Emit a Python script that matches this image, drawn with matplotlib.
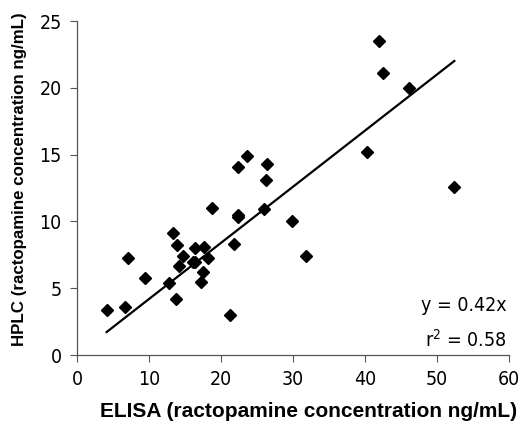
import numpy as np
import matplotlib
matplotlib.use("Agg")
import matplotlib.pyplot as plt
from matplotlib import font_manager

# ELISA vs HPLC ractopamine results (ng/mL)
elisa = [4.1, 6.7, 7.1, 9.4, 12.8, 13.7, 13.3, 13.9, 14.7, 14.2, 16.1, 16.4,
         16.4, 17.6, 18.2, 17.5, 17.2, 18.8, 21.2, 21.8, 22.4, 22.4, 25.9,
         26.2, 26.4, 29.9, 31.8, 22.4, 23.6, 40.3, 42.0, 42.5, 46.1, 52.4]
hplc = [3.4, 3.6, 7.3, 5.8, 5.4, 4.2, 9.1, 8.2, 7.4, 6.7, 7.0, 7.0,
        8.0, 8.1, 7.3, 6.2, 5.5, 11.0, 3.0, 8.3, 10.5, 10.3, 10.9,
        13.1, 14.3, 10.0, 7.4, 14.1, 14.9, 15.2, 23.5, 21.1, 20.0, 12.6]
slope = 0.42
r2 = 0.58
xticks = [0, 10, 20, 30, 40, 50, 60]
yticks = [0, 5, 10, 15, 20, 25]

# condensed face for the numbers
num_fp = font_manager.FontProperties(family='DejaVu Sans', stretch='condensed', size=14)
lab_font = ['Liberation Sans', 'DejaVu Sans']

fig = plt.figure(figsize=(5.21, 4.33), dpi=100)
ax = fig.add_axes([0.148, 0.180, 0.829, 0.7715])

ax.plot(elisa, hplc, 'D', color='black', ms=6, zorder=3)

# trend line through origin, drawn over the data range
xl = np.array([min(elisa), max(elisa)])
ax.plot(xl, slope * xl, color='black', lw=1.6)

ax.set_xlim(0, 60)
ax.set_ylim(0, 25)
ax.set_xticks(xticks)
ax.set_yticks(yticks)
for lbl in ax.get_xticklabels() + ax.get_yticklabels():
    lbl.set_fontproperties(num_fp)
ax.tick_params(direction='out', length=5, width=0.8, color='#555555', pad=6)

for s in ['top', 'right']:
    ax.spines[s].set_visible(False)
for s in ['left', 'bottom']:
    ax.spines[s].set_color('#555555')
    ax.spines[s].set_linewidth(0.9)

ax.set_xlabel('ELISA (ractopamine concentration ng/mL)', family=lab_font,
              fontweight='bold', fontsize=15)
ax.xaxis.set_label_coords(0.535, -0.14)
ax.set_ylabel('HPLC (ractopamine concentration ng/mL)', family=lab_font,
              fontweight='bold', fontsize=12.2)
ax.yaxis.set_label_coords(-0.115, 0.527)

ax.text(0.995, 0.147, 'y = %.2fx' % slope, transform=ax.transAxes, ha='right',
        va='center', fontproperties=num_fp)
ax.text(0.995, 0.045, '$\\mathregular{r^2}$ = %.2f' % r2, transform=ax.transAxes,
        ha='right', va='center', fontproperties=num_fp)

fig.savefig('out.png', dpi=100)
